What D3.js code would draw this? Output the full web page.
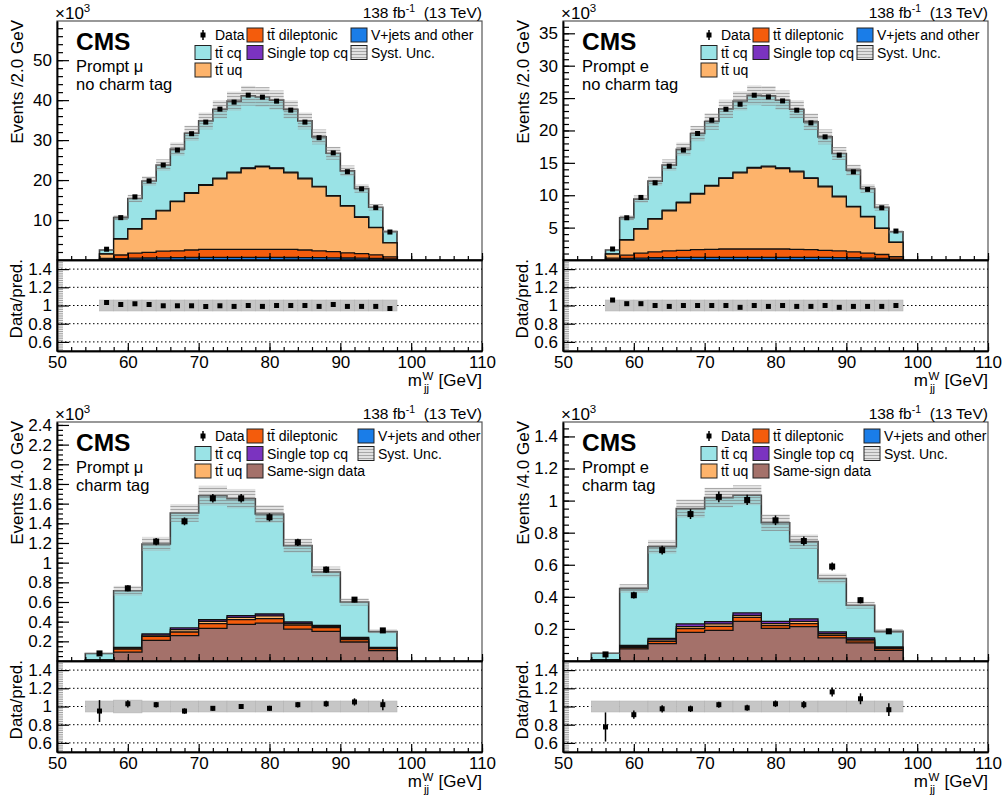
<!DOCTYPE html>
<html lang="en">
<head>
<meta charset="utf-8">
<title>CMS m_jj^W distributions</title>
<script src="https://cdnjs.cloudflare.com/ajax/libs/d3/7.8.5/d3.min.js"></script>
<style>
    body { margin: 0; background: #fff; }
    svg text { font-family: "Liberation Sans", Arial, Helvetica, sans-serif; fill: #000; }
</style>
</head>
<body>
<svg id="chart" width="1006" height="801"></svg>
<script>
// bin lower edges (GeV)
var binsTop = [56, 58, 60, 62, 64, 66, 68, 70, 72, 74, 76, 78, 80, 82, 84, 86, 88, 90, 92, 94, 96];
var binsBot = [54, 58, 62, 66, 70, 74, 78, 82, 86, 90, 94];

// prompt mu, no charm tag (x10^3 events / 2 GeV)
var muVjets = [0.15, 0.35, 0.45, 0.5, 0.55, 0.6, 0.62, 0.65, 0.65, 0.65, 0.65, 0.65, 0.65, 0.63, 0.6, 0.58, 0.55, 0.5, 0.45, 0.4, 0.25];
var muDilep = [0.25, 0.9, 1.25, 1.4, 1.65, 1.7, 1.88, 2.0, 2.0, 2.0, 2.0, 2.0, 2.0, 2.02, 1.9, 1.72, 1.55, 1.3, 1.15, 0.9, 0.55];
var muUq = [1.1, 4.0, 6.05, 8.35, 10.1, 12.3, 14.2, 16.05, 17.65, 19.15, 20.25, 20.65, 20.25, 19.15, 17.8, 16.0, 13.9, 11.7, 9.1, 6.8, 3.5];
var muSt = [0.03, 0.08, 0.1, 0.12, 0.13, 0.14, 0.15, 0.15, 0.16, 0.16, 0.16, 0.16, 0.16, 0.15, 0.15, 0.14, 0.13, 0.12, 0.1, 0.08, 0.05];
var muCq = [0.97, 5.27, 7.55, 9.38, 11.32, 13.01, 14.85, 15.95, 17.24, 17.79, 18.04, 17.34, 16.94, 15.75, 14.35, 12.36, 10.57, 8.68, 7.1, 5.02, 2.75];
var muData = [2.7, 10.6, 15.8, 19.8, 23.75, 27.5, 31.6, 34.5, 37.75, 39.5, 41.25, 40.75, 39.75, 37.5, 34.5, 30.6, 26.8, 22.1, 17.8, 13.1, 7.0];
var muRatio = [1.033, 1.011, 1.019, 1.011, 0.997, 0.997, 0.997, 0.989, 0.997, 0.99, 1.0, 0.99, 1.0, 1.0, 1.0, 0.99, 1.011, 0.99, 0.99, 0.99, 0.967];
var muUnc = [0.06, 0.06, 0.06, 0.06, 0.06, 0.06, 0.06, 0.06, 0.06, 0.06, 0.06, 0.06, 0.06, 0.06, 0.06, 0.06, 0.06, 0.06, 0.06, 0.06, 0.06];

// prompt e, no charm tag
var eVjets = [0.1, 0.25, 0.3, 0.35, 0.38, 0.4, 0.42, 0.42, 0.42, 0.42, 0.42, 0.42, 0.42, 0.42, 0.4, 0.4, 0.38, 0.35, 0.3, 0.25, 0.15];
var eDilep = [0.2, 0.5, 0.75, 0.9, 1.02, 1.1, 1.18, 1.23, 1.28, 1.28, 1.28, 1.28, 1.28, 1.23, 1.2, 1.1, 1.02, 0.9, 0.75, 0.6, 0.35];
var eUq = [0.62, 2.33, 3.73, 5.07, 6.2, 7.34, 8.58, 9.76, 10.89, 11.76, 12.48, 12.69, 12.43, 11.97, 10.99, 9.8, 8.36, 6.97, 5.63, 4.03, 2.22];
var eSt = [0.02, 0.05, 0.06, 0.07, 0.08, 0.09, 0.1, 0.1, 0.1, 0.1, 0.1, 0.1, 0.1, 0.1, 0.1, 0.09, 0.08, 0.07, 0.06, 0.05, 0.03];
var eCq = [0.6, 3.39, 4.56, 5.79, 6.97, 8.18, 9.25, 9.87, 10.64, 11.0, 11.16, 10.85, 10.44, 9.56, 8.64, 7.62, 6.61, 5.59, 4.31, 3.19, 1.62];
var eData = [1.7, 6.52, 9.66, 11.92, 14.49, 16.96, 19.53, 21.58, 23.28, 24.05, 25.44, 25.18, 24.56, 23.13, 21.17, 19.01, 16.19, 13.61, 10.9, 8.06, 4.47];
var eRatio = [1.06, 1.02, 1.02, 1.0, 0.99, 1.0, 1.0, 1.0, 1.0, 0.98, 1.0, 0.99, 1.0, 0.99, 0.99, 1.0, 0.98, 0.99, 0.99, 0.99, 1.0];
var eUnc = [0.06, 0.06, 0.06, 0.06, 0.06, 0.06, 0.06, 0.06, 0.06, 0.06, 0.06, 0.06, 0.06, 0.06, 0.06, 0.06, 0.06, 0.06, 0.06, 0.06, 0.06];

// prompt mu, charm tag (x10^3 events / 4 GeV)
var muCSS = [0.005, 0.091, 0.21, 0.257, 0.332, 0.373, 0.386, 0.325, 0.301, 0.193, 0.105];
var muCDilep = [0.003, 0.031, 0.04, 0.038, 0.048, 0.047, 0.044, 0.041, 0.038, 0.024, 0.02];
var muCUq = [0.001, 0.009, 0.014, 0.024, 0.024, 0.024, 0.028, 0.018, 0.013, 0.013, 0.008];
var muCSt = [0.001, 0.007, 0.011, 0.017, 0.016, 0.017, 0.02, 0.013, 0.01, 0.01, 0.005];
var muCCq = [0.067, 0.576, 0.915, 1.169, 1.26, 1.189, 1.017, 0.776, 0.543, 0.36, 0.162];
var muCData = [0.077, 0.739, 1.214, 1.42, 1.654, 1.654, 1.461, 1.207, 0.929, 0.624, 0.311];
var muCErr = [0.012, 0.03, 0.037, 0.04, 0.043, 0.043, 0.041, 0.037, 0.032, 0.027, 0.019];
var muCRatio = [0.95, 1.03, 1.02, 0.95, 0.98, 1.0, 0.98, 1.02, 1.03, 1.05, 1.02];
var muCRatioErr = [0.12, 0.04, 0.03, 0.03, 0.026, 0.026, 0.028, 0.03, 0.034, 0.04, 0.06];
var muCUnc = [0.06, 0.07, 0.06, 0.06, 0.06, 0.06, 0.06, 0.06, 0.06, 0.06, 0.06];

// prompt e, charm tag
var eCSS = [0.005, 0.075, 0.108, 0.179, 0.191, 0.2475, 0.204, 0.214, 0.144, 0.1125, 0.066];
var eCDilep = [0.002, 0.009, 0.0145, 0.023, 0.025, 0.025, 0.016, 0.019, 0.016, 0.0125, 0.012];
var eCUq = [0.001, 0.006, 0.009, 0.012, 0.015, 0.012, 0.013, 0.014, 0.01, 0.009, 0.005];
var eCSt = [0.001, 0.007, 0.0095, 0.017, 0.0146, 0.0155, 0.0145, 0.0155, 0.011, 0.01, 0.0045];
var eCCq = [0.039, 0.3545, 0.571, 0.719, 0.773, 0.733, 0.6145, 0.4815, 0.333, 0.204, 0.0975];
var eCData = [0.041, 0.41, 0.691, 0.916, 1.023, 1.004, 0.877, 0.748, 0.589, 0.379, 0.185];
var eCErr = [0.008, 0.021, 0.027, 0.031, 0.033, 0.032, 0.03, 0.028, 0.025, 0.02, 0.014];
var eCRatio = [0.775, 0.91, 0.975, 0.975, 1.02, 0.985, 1.03, 1.02, 1.16, 1.085, 0.965];
var eCRatioErr = [0.16, 0.045, 0.04, 0.035, 0.033, 0.033, 0.036, 0.04, 0.05, 0.06, 0.07];
var eCUnc = [0.06, 0.06, 0.06, 0.06, 0.06, 0.06, 0.06, 0.06, 0.06, 0.06, 0.06];

// tick labels
var xTicks = [50, 60, 70, 80, 90, 100, 110];
var ratioTicks = [0.6, 0.8, 1, 1.2, 1.4];
var yTicksMu = [10, 20, 30, 40, 50];
var yTicksE = [5, 10, 15, 20, 25, 30, 35];
var yTicksMuC = [0.2, 0.4, 0.6, 0.8, 1, 1.2, 1.4, 1.6, 1.8, 2, 2.2, 2.4];
var yTicksEC = [0.2, 0.4, 0.6, 0.8, 1, 1.2, 1.4];

var colors = {
    vjets: '#1a7de8', ss: '#a4716a', dilep: '#f45c0c', uq: '#fdb36b', st: '#7b33c0', cq: '#9ae3e6'
};

var legendTop = [
    ['data', 0, 0, 'Data'], ['dilep', 1, 0, 'tt\u0304 dileptonic'], ['vjets', 2, 0, 'V+jets and other'],
    ['cq', 0, 1, 'tt\u0304 cq'], ['st', 1, 1, 'Single top cq'], ['syst', 2, 1, 'Syst. Unc.'],
    ['uq', 0, 2, 'tt\u0304 uq']
];
var legendBot = legendTop.concat([['ss', 1, 2, 'Same-sign data']]);

var F = { x0: 57, x1: 482, top: 21, mid: 260, bot: 351 };

var svg = d3.select('#chart');
var defs = svg.append('defs');
var pat = defs.append('pattern').attr('id', 'hatch')
    .attr('patternUnits', 'userSpaceOnUse').attr('width', 4).attr('height', 3);
pat.append('rect').attr('width', 4).attr('height', 3).attr('fill', '#a8a8a8').attr('fill-opacity', 0.35);
pat.append('line').attr('x1', 0).attr('x2', 4).attr('y1', 0.5).attr('y2', 0.5)
    .attr('stroke', '#777').attr('stroke-opacity', 0.55).attr('stroke-width', 1);

function stepPath(x, y, edges, w, vals) {
    var p = d3.path();
    p.moveTo(x(edges[0]), y(0));
    edges.forEach(function(e, i) {
        p.lineTo(x(e), y(vals[i]));
        p.lineTo(x(e + w), y(vals[i]));
    });
    p.lineTo(x(edges[edges.length - 1] + w), y(0));
    p.closePath();
    return p.toString();
}

function styleAxis(sel, size) {
    sel.attr('font-size', size || 17)
        .attr('font-family', '"Liberation Sans", Arial, Helvetica, sans-serif');
    sel.select('.domain').attr('stroke', '#000').attr('stroke-width', 1.5);
    sel.selectAll('.tick line').attr('stroke', '#000').attr('stroke-width', 1.2);
}

function drawPanel(cfg) {
    var g = svg.append('g').attr('transform', 'translate(' + cfg.ox + ',' + cfg.oy + ')');
    var x = d3.scaleLinear().domain([50, 110]).range([F.x0, F.x1]);
    var y = d3.scaleLinear().domain([0, cfg.ymax]).range([F.mid, F.top]);
    var yr = d3.scaleLinear().domain([0.5, 1.5]).range([F.bot, F.mid]);
    var bw = x(50 + cfg.width) - x(50);

    // cumulative stack
    var run = cfg.edges.map(function() { return 0; });
    var cum = cfg.layers.map(function(l) {
        run = run.map(function(v, i) { return v + l[1][i]; });
        return { key: l[0], values: run.slice() };
    });
    var total = cum[cum.length - 1].values;

    // frame
    g.append('rect').attr('x', F.x0).attr('y', F.top).attr('width', F.x1 - F.x0).attr('height', F.mid - F.top)
        .attr('fill', 'none').attr('stroke', '#555').attr('stroke-width', 1.2);
    g.append('rect').attr('x', F.x0).attr('y', F.mid).attr('width', F.x1 - F.x0).attr('height', F.bot - F.mid)
        .attr('fill', 'none').attr('stroke', '#000').attr('stroke-width', 1.2);

    g.selectAll('path.stack').data(cum.slice().reverse()).join('path')
        .attr('class', 'stack')
        .attr('d', function(d) { return stepPath(x, y, cfg.edges, cfg.width, d.values); })
        .attr('fill', function(d) { return colors[d.key]; })
        .attr('stroke', function(d, i) { return i === 0 ? '#3a3a3a' : '#111'; })
        .attr('stroke-width', function(d, i) { return i === 0 ? 1.6 : 1.3; });

    // syst band
    g.selectAll('rect.unc').data(cfg.edges).join('rect')
        .attr('class', 'unc')
        .attr('x', function(e) { return x(e); })
        .attr('width', bw)
        .attr('y', function(e, i) { return y(total[i] * (1 + cfg.unc[i])); })
        .attr('height', function(e, i) { return y(total[i] * (1 - cfg.unc[i])) - y(total[i] * (1 + cfg.unc[i])); })
        .attr('fill', 'url(#hatch)');

    // data
    var ms = cfg.err ? 6 : 5;
    if (cfg.err) {
        g.selectAll('line.err').data(cfg.data).join('line')
            .attr('class', 'err')
            .attr('x1', function(d, i) { return x(cfg.edges[i] + cfg.width / 2); })
            .attr('x2', function(d, i) { return x(cfg.edges[i] + cfg.width / 2); })
            .attr('y1', function(d, i) { return y(d - cfg.err[i]); })
            .attr('y2', function(d, i) { return y(d + cfg.err[i]); })
            .attr('stroke', '#000').attr('stroke-width', 1.5);
    }
    g.selectAll('rect.pt').data(cfg.data).join('rect')
        .attr('class', 'pt')
        .attr('x', function(d, i) { return x(cfg.edges[i] + cfg.width / 2) - ms / 2; })
        .attr('y', function(d) { return y(d) - ms / 2; })
        .attr('width', ms).attr('height', ms).attr('fill', '#000');

    // main axes
    g.append('g').attr('transform', 'translate(' + F.x0 + ',0)')
        .call(d3.axisLeft(y).tickValues(d3.range(cfg.minor, cfg.ymax, cfg.minor)).tickSizeInner(-6).tickSizeOuter(0).tickFormat(''))
        .call(styleAxis);
    g.append('g').attr('transform', 'translate(' + F.x0 + ',0)')
        .call(d3.axisLeft(y).tickValues(cfg.yTicks).tickSizeInner(-12).tickSizeOuter(0).tickPadding(5).tickFormat(d3.format('~g')))
        .call(styleAxis);
    g.append('g').attr('transform', 'translate(0,' + F.mid + ')')
        .call(d3.axisBottom(x).tickValues(d3.range(50, 110.1, 2)).tickSizeInner(-4).tickSizeOuter(0).tickFormat(''))
        .call(styleAxis);
    g.append('g').attr('transform', 'translate(0,' + F.mid + ')')
        .call(d3.axisBottom(x).tickValues(xTicks).tickSizeInner(-7).tickSizeOuter(0).tickFormat(''))
        .call(styleAxis);

    // ratio
    g.selectAll('line.grid').data(ratioTicks).join('line')
        .attr('class', 'grid')
        .attr('x1', F.x0).attr('x2', F.x1)
        .attr('y1', function(d) { return yr(d); }).attr('y2', function(d) { return yr(d); })
        .attr('stroke', '#000').attr('stroke-width', 1).attr('stroke-dasharray', '1.5,2.5');
    g.selectAll('rect.runc').data(cfg.edges).join('rect')
        .attr('class', 'runc')
        .attr('x', function(e) { return x(e); })
        .attr('width', bw)
        .attr('y', function(e, i) { return yr(1 + cfg.unc[i]); })
        .attr('height', function(e, i) { return yr(1 - cfg.unc[i]) - yr(1 + cfg.unc[i]); })
        .attr('fill', '#c6c6c6').attr('stroke', '#b4b4b4').attr('stroke-width', 0.6);
    if (cfg.ratioErr) {
        g.selectAll('line.rerr').data(cfg.ratio).join('line')
            .attr('class', 'rerr')
            .attr('x1', function(d, i) { return x(cfg.edges[i] + cfg.width / 2); })
            .attr('x2', function(d, i) { return x(cfg.edges[i] + cfg.width / 2); })
            .attr('y1', function(d, i) { return yr(d - cfg.ratioErr[i]); })
            .attr('y2', function(d, i) { return yr(d + cfg.ratioErr[i]); })
            .attr('stroke', '#000').attr('stroke-width', 1.5);
    }
    g.selectAll('rect.rpt').data(cfg.ratio).join('rect')
        .attr('class', 'rpt')
        .attr('x', function(d, i) { return x(cfg.edges[i] + cfg.width / 2) - 2.5; })
        .attr('y', function(d) { return yr(d) - 2.5; })
        .attr('width', 5).attr('height', 5).attr('fill', '#000');

    var rMinor = g.append('g').attr('transform', 'translate(' + F.x0 + ',0)')
        .call(d3.axisLeft(yr).tickValues(d3.range(0.52, 1.5, 0.02)).tickSizeInner(-6).tickSizeOuter(0).tickFormat(''))
        .call(styleAxis);
    rMinor.selectAll('.tick line').attr('stroke', '#888').attr('stroke-width', 0.8);
    g.append('g').attr('transform', 'translate(' + F.x0 + ',0)')
        .call(d3.axisLeft(yr).tickValues(ratioTicks).tickSizeInner(-12).tickSizeOuter(0).tickPadding(5).tickFormat(d3.format('~g')))
        .call(styleAxis);
    g.append('g').attr('transform', 'translate(0,' + F.bot + ')')
        .call(d3.axisBottom(x).tickValues(d3.range(50, 110.1, 2)).tickSizeInner(-4).tickSizeOuter(0).tickFormat(''))
        .call(styleAxis);
    g.append('g').attr('transform', 'translate(0,' + F.bot + ')')
        .call(d3.axisBottom(x).tickValues(xTicks).tickSizeInner(-8).tickSizeOuter(0).tickPadding(5).tickFormat(d3.format('~g')))
        .call(styleAxis);

    // axis titles
    g.append('text').attr('transform', 'translate(23,' + (F.top - 1) + ') rotate(-90)')
        .attr('text-anchor', 'end').attr('font-size', 17).text(cfg.ytitle);
    g.append('text').attr('transform', 'translate(22,' + (F.mid - 1) + ') rotate(-90)')
        .attr('text-anchor', 'end').attr('font-size', 17).text('Data/pred.');

    var xt = g.append('text').attr('x', F.x1).attr('y', 386).attr('text-anchor', 'end')
        .attr('font-size', 17).text('[GeV]');
    var wGeV = xt.node().getComputedTextLength();
    var xs = F.x1 - wGeV - 16;
    g.append('text').attr('x', xs).attr('y', 380).attr('font-size', 11.5).text('W');
    g.append('text').attr('x', xs + 1.5).attr('y', 392).attr('font-size', 11.5).text('jj');
    g.append('text').attr('x', xs - 0.5).attr('y', 386).attr('text-anchor', 'end').attr('font-size', 17).text('m');

    // x10^3
    var mult = g.append('text').attr('x', 55).attr('y', 19).attr('font-size', 17).text('\u00d710');
    mult.append('tspan').attr('dy', -7).attr('font-size', 11.5).text('3');

    // lumi
    var lumi = g.append('text').attr('x', F.x1).attr('y', 18).attr('text-anchor', 'end').attr('font-size', 15.5).text('138 fb');
    lumi.append('tspan').attr('dy', -6).attr('font-size', 10.5).text('-1');
    lumi.append('tspan').attr('dy', 6).attr('font-size', 15.5).text('\u00a0 (13 TeV)');

    // CMS label
    g.append('text').attr('x', 76).attr('y', 50).attr('font-size', 24.5).attr('font-weight', 'bold').text('CMS');
    g.append('text').attr('x', 76).attr('y', 72).attr('font-size', 16.5).text(cfg.lep);
    g.append('text').attr('x', 76).attr('y', 90).attr('font-size', 16.5).text(cfg.tag);

    // legend
    var colX = [195, 247, cfg.col3];
    var rowY = [35, 52.5, 70];
    cfg.legend.forEach(function(e) {
        var cx = colX[e[1]], cy = rowY[e[2]];
        if (e[0] === 'data') {
            g.append('line').attr('x1', cx + 8).attr('x2', cx + 8).attr('y1', cy - 5).attr('y2', cy + 5)
                .attr('stroke', '#000').attr('stroke-width', 1.5);
            g.append('rect').attr('x', cx + 5.5).attr('y', cy - 2.5).attr('width', 5).attr('height', 5).attr('fill', '#000');
        } else {
            if (e[0] === 'syst') {
                g.append('rect').attr('x', cx).attr('y', cy - 7).attr('width', 16).attr('height', 14)
                    .attr('fill', '#fff');
            }
            g.append('rect').attr('x', cx).attr('y', cy - 7).attr('width', 16).attr('height', 14)
                .attr('fill', e[0] === 'syst' ? 'url(#hatch)' : colors[e[0]])
                .attr('stroke', '#222').attr('stroke-width', 1);
        }
        g.append('text').attr('x', cx + 20).attr('y', cy + 5).attr('font-size', 14).text(e[3]);
    });
}

drawPanel({
    ox: 0, oy: 0, edges: binsTop, width: 2, ymax: 59.8, yTicks: yTicksMu, minor: 2,
    layers: [['vjets', muVjets], ['dilep', muDilep], ['uq', muUq], ['st', muSt], ['cq', muCq]],
    data: muData, ratio: muRatio, unc: muUnc,
    ytitle: 'Events /2.0 GeV', lep: 'Prompt \u03bc', tag: 'no charm tag', legend: legendTop, col3: 351
});
drawPanel({
    ox: 506, oy: 0, edges: binsTop, width: 2, ymax: 36.9, yTicks: yTicksE, minor: 1,
    layers: [['vjets', eVjets], ['dilep', eDilep], ['uq', eUq], ['st', eSt], ['cq', eCq]],
    data: eData, ratio: eRatio, unc: eUnc,
    ytitle: 'Events /2.0 GeV', lep: 'Prompt e', tag: 'no charm tag', legend: legendTop, col3: 351
});
drawPanel({
    ox: 0, oy: 401, edges: binsBot, width: 4, ymax: 2.43, yTicks: yTicksMuC, minor: 0.05,
    layers: [['ss', muCSS], ['dilep', muCDilep], ['uq', muCUq], ['st', muCSt], ['cq', muCCq]],
    data: muCData, err: muCErr, ratio: muCRatio, ratioErr: muCRatioErr, unc: muCUnc,
    ytitle: 'Events /4.0 GeV', lep: 'Prompt \u03bc', tag: 'charm tag', legend: legendBot, col3: 358
});
drawPanel({
    ox: 506, oy: 401, edges: binsBot, width: 4, ymax: 1.49, yTicks: yTicksEC, minor: 0.05,
    layers: [['ss', eCSS], ['dilep', eCDilep], ['uq', eCUq], ['st', eCSt], ['cq', eCCq]],
    data: eCData, err: eCErr, ratio: eCRatio, ratioErr: eCRatioErr, unc: eCUnc,
    ytitle: 'Events /4.0 GeV', lep: 'Prompt e', tag: 'charm tag', legend: legendBot, col3: 358
});
</script>
</body>
</html>
